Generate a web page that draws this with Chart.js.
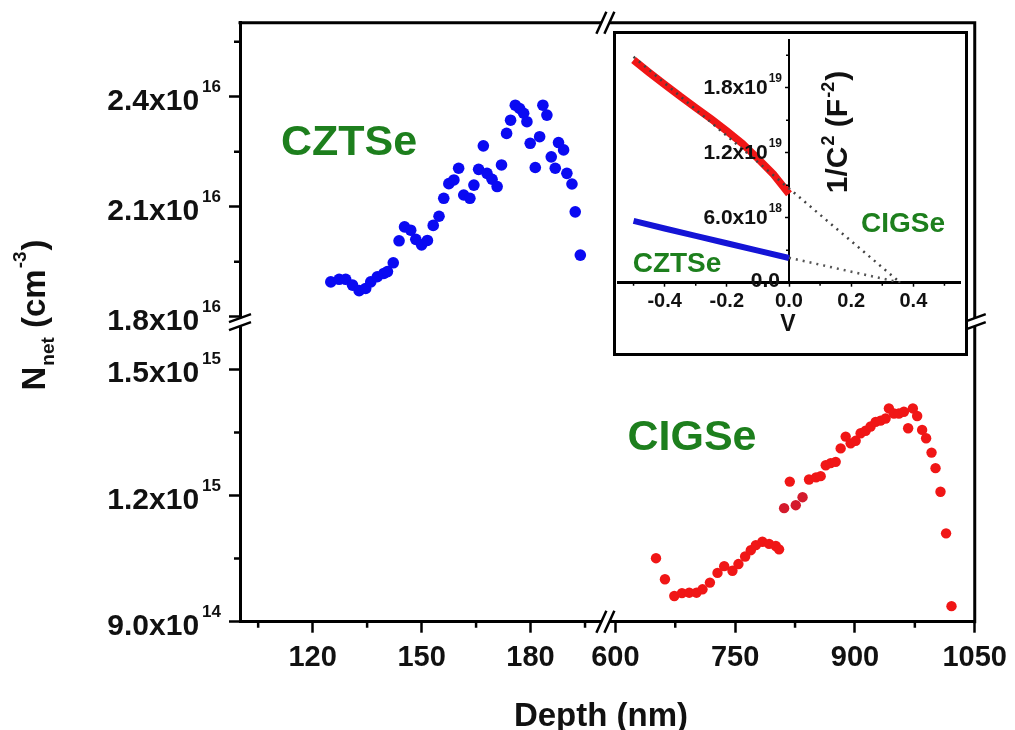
<!DOCTYPE html>
<html>
<head>
<meta charset="utf-8">
<title>Net carrier density vs depth</title>
<script src="https://cdn.jsdelivr.net/npm/chart.js@4.4.1/dist/chart.umd.min.js"></script>
<style>
  html, body { margin: 0; padding: 0; background: #fff; }
  #wrap { position: relative; width: 1015px; height: 730px; overflow: hidden; }
  #main { position: absolute; left: 0; top: 0; }
  #insetBox { position: absolute; left: 613px; top: 31px; width: 355px; height: 325px;
              border: 3px solid #000; box-sizing: border-box; background: #fff; }
  #inset { position: absolute; left: 0; top: 0; }
</style>
</head>
<body>
<div id="wrap">
  <canvas id="main" width="1015" height="730"></canvas>
  <div id="insetBox"><canvas id="inset" width="349" height="319"></canvas></div>
</div>
<script>
// ---- CZTSe profile (depth in nm, N_net in cm^-3) ----
const cztsDepth = [125.0,127.3,129.1,131.0,132.8,134.6,136.0,137.8,139.6,140.6,
  142.2,143.8,145.3,147.0,148.4,150.0,151.6,153.2,154.8,156.1,
  157.5,158.9,160.2,161.6,163.3,164.4,165.7,167.0,168.0,169.4,
  170.8,172.0,173.4,174.5,175.8,177.0,178.1,179.0,179.9,181.3,
  182.5,183.4,184.5,185.7,186.8,187.7,189.1,190.0,191.4,192.3,193.7];
const cztsNnet = [1.895e16,1.902e16,1.902e16,1.886e16,1.871e16,1.877e16,1.895e16,1.909e16,1.918e16,1.923e16,
  1.947e16,2.007e16,2.045e16,2.036e16,2.011e16,1.996e16,2.008e16,2.049e16,2.074e16,2.123e16,
  2.163e16,2.173e16,2.205e16,2.132e16,2.123e16,2.159e16,2.202e16,2.266e16,2.191e16,2.175e16,
  2.155e16,2.214e16,2.300e16,2.336e16,2.377e16,2.368e16,2.355e16,2.332e16,2.273e16,2.207e16,
  2.291e16,2.377e16,2.350e16,2.236e16,2.205e16,2.275e16,2.255e16,2.191e16,2.162e16,2.086e16,1.968e16];

// ---- CIGSe profile ----
const cigsDepth = [650.9,662.1,673.8,683.4,692.5,701.6,709.1,718.4,727.9,736.3,
  746.6,754.1,762.5,769.6,775.9,784.1,792.5,800.9,805.0,818.4,
  842.5,851.3,857.1,863.4,869.6,875.9,882.1,888.4,894.6,900.9,
  907.1,913.4,919.6,925.9,932.1,938.4,942.5,948.8,955.0,961.3,
  966.6,972.5,977.9,984.1,989.1,995.9,1000.9,1007.1,1014.1,1020.9];
const cigsNnet = [1.051e15,1.001e15,0.961e15,0.968e15,0.969e15,0.969e15,0.977e15,0.993e15,1.016e15,1.032e15,
  1.021e15,1.037e15,1.055e15,1.070e15,1.082e15,1.090e15,1.085e15,1.080e15,1.072e15,1.233e15,
  1.238e15,1.243e15,1.246e15,1.272e15,1.277e15,1.280e15,1.312e15,1.340e15,1.324e15,1.330e15,
  1.348e15,1.354e15,1.364e15,1.375e15,1.378e15,1.383e15,1.407e15,1.395e15,1.395e15,1.399e15,
  1.360e15,1.407e15,1.389e15,1.356e15,1.336e15,1.302e15,1.265e15,1.209e15,1.110e15,0.937e15];
// three points of a separate sweep, drawn in a darker red
const cigsDepthB = [811.3, 825.9, 834.4];
const cigsNnetB = [1.170e15, 1.177e15, 1.196e15];

// ---- Inset: Mott-Schottky data (V, 1/C^2 in F^-2) ----
const cigsBias = [-0.5,-0.45,-0.4,-0.35,-0.3,-0.25,-0.2,-0.15,-0.1,-0.05,0];
const cigsInvC2 = [20.55e18,19.4e18,18.3e18,17.2e18,16.15e18,15.1e18,14.0e18,12.85e18,11.45e18,10.0e18,8.2e18];
const cztsBias = [-0.5,-0.4,-0.3,-0.2,-0.1,0];
const cztsInvC2 = [5.7e18,5.0e18,4.32e18,3.64e18,2.96e18,2.28e18];
const cigsFitBias = [-0.5, 0.358];
const cigsFitInvC2 = [20.85e18, 0];
const cztsFitBias = [0, 0.36];
const cztsFitInvC2 = [2.3e18, 0];

// ---- Tick values ----
const xLeftTicks = [120, 150, 180];
const xLeftMinor = [105, 135, 165, 195];
const xRightTicks = [600, 750, 900, 1050];
const xRightMinor = [675, 825, 975];
const yTopTicks = [1.8e16, 2.1e16, 2.4e16];
const yTopMinor = [1.95e16, 2.25e16, 2.55e16];
const yBottomTicks = [9.0e14, 1.2e15, 1.5e15];
const yBottomMinor = [1.05e15, 1.35e15];
const insetXTicks = [-0.4, -0.2, 0, 0.2, 0.4];
const insetXMinor = [-0.5, -0.3, -0.1, 0.1, 0.3, 0.5];
const insetYTicks = [0, 6.0e18, 1.2e19, 1.8e19];
const insetYMinor = [3e18, 9e18, 1.5e19, 2.1e19];

// ---- Styling ----
const FAMILY = "'Liberation Sans', Arial, Helvetica, sans-serif";
const GREEN = '#1d7f1d';
const BLUE = '#0a0af2';
const RED = '#f01616';
const DARK_RED = '#d41a2c';
const font = size => `bold ${size}px ${FAMILY}`;

const pts = (xs, ys) => xs.map((x, i) => ({x, y: ys[i]}));

// draws a run of text pieces (for super/subscripts) aligned at (x, y)
function drawRich(ctx, parts, x, y, align, rotate) {
  let total = 0;
  const widths = parts.map(p => {
    ctx.font = p.font;
    const w = ctx.measureText(p.text).width + (p.dx || 0);
    total += w;
    return w;
  });
  ctx.save();
  ctx.translate(x, y);
  if (rotate) ctx.rotate(rotate);
  let cx = align === 'right' ? -total : (align === 'center' ? -total / 2 : 0);
  ctx.textAlign = 'left';
  ctx.textBaseline = 'alphabetic';
  parts.forEach((p, i) => {
    ctx.font = p.font;
    ctx.fillStyle = p.color || '#111';
    ctx.fillText(p.text, cx + (p.dx || 0), p.dy || 0);
    cx += widths[i];
  });
  ctx.restore();
}

// "2.4x10" + "16"
function sciParts(v) {
  if (v === 0) return null;
  const e = Math.floor(Math.log10(v) + 1e-9);
  const m = v / Math.pow(10, e);
  return [m.toFixed(1) + 'x10', String(e)];
}

function breakOnHorizontal(ctx, x, y) {
  ctx.fillStyle = '#fff';
  ctx.fillRect(x - 4, y - 3, 8, 6);
  ctx.beginPath();
  [-4, 4].forEach(d => { ctx.moveTo(x + d - 5, y + 11); ctx.lineTo(x + d + 5, y - 11); });
  ctx.stroke();
}
function breakOnVertical(ctx, x, y) {
  ctx.fillStyle = '#fff';
  ctx.fillRect(x - 3, y - 4, 6, 8);
  ctx.beginPath();
  [-4, 4].forEach(d => { ctx.moveTo(x - 11, y + d + 4); ctx.lineTo(x + 11, y + d - 4); });
  ctx.stroke();
}

const mainDecor = {
  id: 'mainDecor',
  afterDraw(chart) {
    const ctx = chart.ctx, a = chart.chartArea, s = chart.scales;
    ctx.save();
    ctx.strokeStyle = '#000';
    // top and right frame
    ctx.lineWidth = 3;
    ctx.beginPath();
    ctx.moveTo(a.left - 1.5, a.top); ctx.lineTo(a.right + 1.5, a.top);
    ctx.moveTo(a.right, a.top); ctx.lineTo(a.right, a.bottom + 1.5);
    ctx.stroke();
    // minor ticks
    ctx.lineWidth = 2.5;
    ctx.beginPath();
    [[s.xL, xLeftMinor], [s.xR, xRightMinor]].forEach(([sc, vals]) => vals.forEach(v => {
      const p = sc.getPixelForValue(v);
      ctx.moveTo(p, a.bottom); ctx.lineTo(p, a.bottom + 6);
    }));
    [[s.yT, yTopMinor], [s.yB, yBottomMinor]].forEach(([sc, vals]) => vals.forEach(v => {
      const p = sc.getPixelForValue(v);
      ctx.moveTo(a.left, p); ctx.lineTo(a.left - 6, p);
    }));
    ctx.stroke();
    // axis breaks
    ctx.lineWidth = 2.5;
    const jx = s.xL.right, jy = s.yT.bottom;
    breakOnHorizontal(ctx, jx, a.bottom);
    breakOnHorizontal(ctx, jx, a.top);
    breakOnVertical(ctx, a.left, jy);
    breakOnVertical(ctx, a.right, jy);
    // y tick labels with exponents
    [[s.yT, yTopTicks], [s.yB, yBottomTicks]].forEach(([sc, vals]) => vals.forEach(v => {
      const [mant, exp] = sciParts(v);
      drawRich(ctx, [
        {text: mant, font: font(30), dy: 13},
        {text: exp, font: font(17), dy: -5, dx: 3}
      ], 221, sc.getPixelForValue(v), 'right');
    }));
    // axis titles
    drawRich(ctx, [
      {text: 'N', font: font(33)},
      {text: 'net', font: font(19), dy: 9, dx: 1},
      {text: ' (cm', font: font(33)},
      {text: '-3', font: font(19), dy: -19, dx: 1},
      {text: ')', font: font(33), dx: 1}
    ], 45, 315, 'center', -Math.PI / 2);
    drawRich(ctx, [{text: 'Depth (nm)', font: font(33)}], 601, 726, 'center');
    // series names
    drawRich(ctx, [{text: 'CZTSe', font: font(43), color: GREEN}], 349, 155, 'center');
    drawRich(ctx, [{text: 'CIGSe', font: font(43), color: GREEN}], 692, 450, 'center');
    ctx.restore();
  }
};

const tickFont = {family: FAMILY, size: 29, weight: 'bold'};
function depthScale(min, max, ticks, weight, stackWeight) {
  return {
    type: 'linear', axis: 'x', position: 'bottom', stack: 'depth', stackWeight, weight,
    min, max,
    afterBuildTicks: sc => { sc.ticks = ticks.map(v => ({value: v})); },
    afterFit: sc => { sc.height = 108.3; },
    grid: {drawOnChartArea: false, drawTicks: true, tickLength: 11, tickWidth: 2.5, tickColor: '#000'},
    border: {display: true, color: '#000', width: 3},
    ticks: {autoSkip: false, maxRotation: 0, minRotation: 0, padding: 8, color: '#111',
            font: tickFont, callback: v => String(v)}
  };
}
function densityScale(min, max, ticks, weight) {
  return {
    type: 'linear', axis: 'y', position: 'left', stack: 'nnet', stackWeight: 1, weight,
    min, max,
    afterBuildTicks: sc => { sc.ticks = ticks.map(v => ({value: v})); },
    afterFit: sc => { sc.width = 240; },
    grid: {drawOnChartArea: false, drawTicks: true, tickLength: 11, tickWidth: 2.5, tickColor: '#000'},
    border: {display: true, color: '#000', width: 3},
    ticks: {display: false}
  };
}

new Chart(document.getElementById('main'), {
  type: 'scatter',
  data: {
    datasets: [
      {label: 'CZTSe', data: pts(cztsDepth, cztsNnet), xAxisID: 'xL', yAxisID: 'yT',
       pointRadius: 5.8, pointBorderWidth: 0, backgroundColor: BLUE, borderColor: BLUE},
      {label: 'CIGSe', data: pts(cigsDepth, cigsNnet), xAxisID: 'xR', yAxisID: 'yB',
       pointRadius: 5.2, pointBorderWidth: 0, backgroundColor: RED, borderColor: RED},
      {label: 'CIGSe (b)', data: pts(cigsDepthB, cigsNnetB), xAxisID: 'xR', yAxisID: 'yB',
       pointRadius: 5.2, pointBorderWidth: 0, backgroundColor: DARK_RED, borderColor: DARK_RED}
    ]
  },
  options: {
    responsive: false, animation: false, events: [],
    layout: {padding: {top: 22.7, right: 39, bottom: 0, left: 0}},
    plugins: {legend: {display: false}, tooltip: {enabled: false}},
    scales: {
      xL: depthScale(100, 200.6, xLeftTicks, 1, 366),
      xR: depthScale(587.5, 1050, xRightTicks, 2, 370),
      yB: densityScale(0.9e15, 1.612e15, yBottomTicks, 1),
      yT: densityScale(1.785e16, 2.602e16, yTopTicks, 2)
    }
  },
  plugins: [mainDecor]
});

// ---- Inset ----
const insetDecor = {
  id: 'insetDecor',
  afterDraw(chart) {
    const ctx = chart.ctx, a = chart.chartArea, sx = chart.scales.x, sy = chart.scales.y;
    const x0 = sx.getPixelForValue(0);
    ctx.save();
    ctx.strokeStyle = '#000';
    ctx.lineWidth = 1.5;
    ctx.beginPath();
    insetXMinor.forEach(v => { const p = sx.getPixelForValue(v); ctx.moveTo(p, a.bottom); ctx.lineTo(p, a.bottom + 3); });
    insetYMinor.forEach(v => { const p = sy.getPixelForValue(v); ctx.moveTo(x0, p); ctx.lineTo(x0 - 3, p); });
    ctx.stroke();
    insetYTicks.forEach(v => {
      const py = sy.getPixelForValue(v);
      const sp = sciParts(v);
      if (!sp) {
        drawRich(ctx, [{text: '0.0', font: font(21), dy: 4}], x0 - 9, py, 'right');
      } else {
        drawRich(ctx, [
          {text: sp[0], font: font(21), dy: 6},
          {text: sp[1], font: font(12), dy: -6, dx: 1}
        ], x0 - 7, py, 'right');
      }
    });
    drawRich(ctx, [
      {text: '1/C', font: font(30)},
      {text: '2', font: font(18), dy: -13, dx: 1},
      {text: ' (F', font: font(30)},
      {text: '-2', font: font(18), dy: -13, dx: 1},
      {text: ')', font: font(30), dx: 1}
    ], 231, 98, 'center', -Math.PI / 2);
    drawRich(ctx, [{text: 'V', font: font(23)}], x0 - 1, 297, 'center');
    drawRich(ctx, [{text: 'CIGSe', font: font(28), color: GREEN}], 287, 198, 'center');
    drawRich(ctx, [{text: 'CZTSe', font: font(28), color: GREEN}], 61, 238, 'center');
    ctx.restore();
  }
};

new Chart(document.getElementById('inset'), {
  type: 'scatter',
  data: {
    datasets: [
      {label: 'CIGSe fit', data: pts(cigsFitBias, cigsFitInvC2), showLine: true, pointRadius: 0,
       borderColor: '#444', borderWidth: 2.5, borderDash: [2, 5], order: 0},
      {label: 'CZTSe fit', data: pts(cztsFitBias, cztsFitInvC2), showLine: true, pointRadius: 0,
       borderColor: '#555', borderWidth: 2.5, borderDash: [2, 5], order: 0},
      {label: 'CIGSe', data: pts(cigsBias, cigsInvC2), showLine: true, pointRadius: 0,
       borderColor: RED, borderWidth: 7.5, order: 1},
      {label: 'CZTSe', data: pts(cztsBias, cztsInvC2), showLine: true, pointRadius: 0,
       borderColor: '#1414d6', borderWidth: 6, order: 1}
    ]
  },
  options: {
    responsive: false, animation: false, events: [],
    layout: {padding: {top: 6, right: 5, bottom: 0, left: 2}},
    plugins: {legend: {display: false}, tooltip: {enabled: false}},
    scales: {
      x: {
        type: 'linear', axis: 'x', position: 'bottom', min: -0.55, max: 0.55,
        afterBuildTicks: sc => { sc.ticks = insetXTicks.map(v => ({value: v})); },
        afterFit: sc => { sc.height = 70.3; },
        grid: {drawOnChartArea: false, drawTicks: true, tickLength: 4, tickWidth: 1.5, tickColor: '#000'},
        border: {display: true, color: '#000', width: 3},
        ticks: {autoSkip: false, maxRotation: 0, minRotation: 0, padding: 3, color: '#111',
                font: {family: FAMILY, size: 20, weight: 'bold'}, callback: v => v.toFixed(1)}
      },
      y: {
        type: 'linear', axis: 'y', position: {x: 0}, min: 0, max: 2.24e19,
        afterBuildTicks: sc => { sc.ticks = insetYTicks.map(v => ({value: v})); },
        grid: {drawOnChartArea: false, drawTicks: true, tickLength: 3, tickWidth: 1.5, tickColor: '#000'},
        border: {display: true, color: '#000', width: 2},
        ticks: {display: false}
      }
    }
  },
  plugins: [insetDecor]
});
</script>
</body>
</html>
